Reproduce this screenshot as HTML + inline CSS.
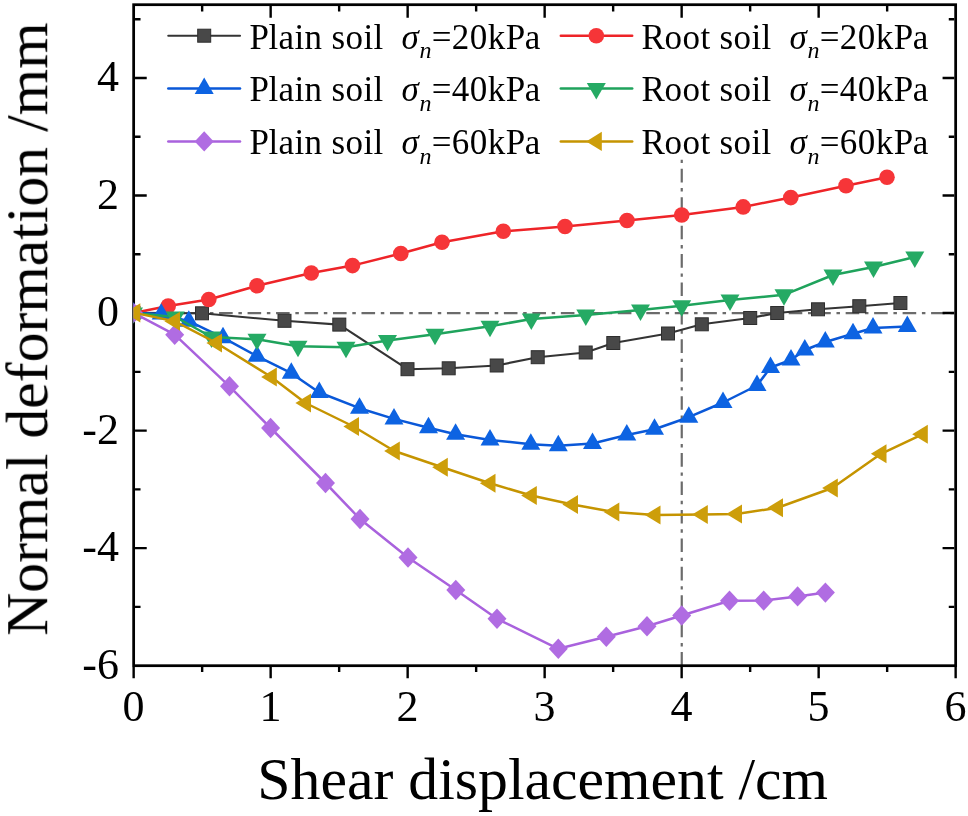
<!DOCTYPE html>
<html><head><meta charset="utf-8"><title>Normal deformation vs shear displacement</title>
<style>html,body{margin:0;padding:0;background:#fff;overflow:hidden}svg{display:block}body{font-family:"Liberation Serif",serif}</style></head>
<body>
<svg width="968" height="816" viewBox="0 0 968 816">
<rect width="968" height="816" fill="#fff"/>
<g stroke="#6b6b6b" stroke-width="2.2" fill="none">
<line x1="133.65" y1="313.2" x2="955.65" y2="313.2" stroke-dasharray="13.6 5.7 3.5 5.68"/>
<line x1="681.75" y1="665.7" x2="681.75" y2="159.5" stroke-dasharray="13.6 5.7 3.4 5.73"/>
</g>
<g stroke="#000" stroke-width="2.75" fill="none" stroke-linecap="butt">
<rect x="133.65" y="4.7" width="822" height="661"/>
<path stroke-width="2.4" d="M133.65 667.08 v11.1 M202.15 6.08 v5.5 M202.15 667.08 v4.9 M270.65 6.08 v11.7 M270.65 667.08 v11.1 M339.15 6.08 v5.5 M339.15 667.08 v4.9 M407.65 6.08 v11.7 M407.65 667.08 v11.1 M476.15 6.08 v5.5 M476.15 667.08 v4.9 M544.65 6.08 v11.7 M544.65 667.08 v11.1 M613.15 6.08 v5.5 M613.15 667.08 v4.9 M681.65 6.08 v11.7 M681.65 667.08 v11.1 M750.15 6.08 v5.5 M750.15 667.08 v4.9 M818.65 6.08 v11.7 M818.65 667.08 v11.1 M887.15 6.08 v5.5 M887.15 667.08 v4.9 M955.65 667.08 v11.1 M135.03 606.92 h5.5 M954.27 606.92 h-5.5 M135.03 548.15 h11.7 M954.27 548.15 h-11.7 M135.03 489.38 h5.5 M954.27 489.38 h-5.5 M135.03 430.6 h11.7 M954.27 430.6 h-11.7 M135.03 371.83 h5.5 M954.27 371.83 h-5.5 M135.03 313.05 h11.7 M954.27 313.05 h-11.7 M135.03 254.28 h5.5 M954.27 254.28 h-5.5 M135.03 195.5 h11.7 M954.27 195.5 h-11.7 M135.03 136.72 h5.5 M954.27 136.72 h-5.5 M135.03 77.95 h11.7 M954.27 77.95 h-11.7 M135.03 19.18 h5.5 M954.27 19.18 h-5.5"/>
</g>
<clipPath id="c"><rect x="133.35" y="4.7" width="822.3" height="661"/></clipPath>
<g clip-path="url(#c)">
<g>
<polyline points="133.5,312.9 202,313.3 284.5,320.8 339.3,324.6 407.5,369.2 448.7,368.3 496.7,365.5 537.7,357.2 585.7,352.5 613.3,343 668,333.5 701.8,324.3 750.2,318 777.2,313 818,309.3 859.3,306.2 900.4,303" fill="none" stroke="#343434" stroke-width="2.15" stroke-linejoin="round"/>
<rect x="127" y="306.4" width="13" height="13" fill="#484848" stroke="#2e2e2e" stroke-width="1"/>
<rect x="195.5" y="306.8" width="13" height="13" fill="#484848" stroke="#2e2e2e" stroke-width="1"/>
<rect x="278" y="314.3" width="13" height="13" fill="#484848" stroke="#2e2e2e" stroke-width="1"/>
<rect x="332.8" y="318.1" width="13" height="13" fill="#484848" stroke="#2e2e2e" stroke-width="1"/>
<rect x="401" y="362.7" width="13" height="13" fill="#484848" stroke="#2e2e2e" stroke-width="1"/>
<rect x="442.2" y="361.8" width="13" height="13" fill="#484848" stroke="#2e2e2e" stroke-width="1"/>
<rect x="490.2" y="359" width="13" height="13" fill="#484848" stroke="#2e2e2e" stroke-width="1"/>
<rect x="531.2" y="350.7" width="13" height="13" fill="#484848" stroke="#2e2e2e" stroke-width="1"/>
<rect x="579.2" y="346" width="13" height="13" fill="#484848" stroke="#2e2e2e" stroke-width="1"/>
<rect x="606.8" y="336.5" width="13" height="13" fill="#484848" stroke="#2e2e2e" stroke-width="1"/>
<rect x="661.5" y="327" width="13" height="13" fill="#484848" stroke="#2e2e2e" stroke-width="1"/>
<rect x="695.3" y="317.8" width="13" height="13" fill="#484848" stroke="#2e2e2e" stroke-width="1"/>
<rect x="743.7" y="311.5" width="13" height="13" fill="#484848" stroke="#2e2e2e" stroke-width="1"/>
<rect x="770.7" y="306.5" width="13" height="13" fill="#484848" stroke="#2e2e2e" stroke-width="1"/>
<rect x="811.5" y="302.8" width="13" height="13" fill="#484848" stroke="#2e2e2e" stroke-width="1"/>
<rect x="852.8" y="299.7" width="13" height="13" fill="#484848" stroke="#2e2e2e" stroke-width="1"/>
<rect x="893.9" y="296.5" width="13" height="13" fill="#484848" stroke="#2e2e2e" stroke-width="1"/>
</g>
<g>
<polyline points="133.5,312.9 168.2,306 208.8,299.5 257,285.8 311.3,273 352.5,265.6 400.8,253.5 442,242.3 503.3,231.3 565,226.5 627,220.5 681.7,215 743.2,206.9 790.8,197.6 846,185.7 887,177.2" fill="none" stroke="#EE2428" stroke-width="2.5" stroke-linejoin="round"/>
<circle cx="133.5" cy="312.9" r="7.8" fill="#F63538"/>
<circle cx="168.2" cy="306" r="7.8" fill="#F63538"/>
<circle cx="208.8" cy="299.5" r="7.8" fill="#F63538"/>
<circle cx="257" cy="285.8" r="7.8" fill="#F63538"/>
<circle cx="311.3" cy="273" r="7.8" fill="#F63538"/>
<circle cx="352.5" cy="265.6" r="7.8" fill="#F63538"/>
<circle cx="400.8" cy="253.5" r="7.8" fill="#F63538"/>
<circle cx="442" cy="242.3" r="7.8" fill="#F63538"/>
<circle cx="503.3" cy="231.3" r="7.8" fill="#F63538"/>
<circle cx="565" cy="226.5" r="7.8" fill="#F63538"/>
<circle cx="627" cy="220.5" r="7.8" fill="#F63538"/>
<circle cx="681.7" cy="215" r="7.8" fill="#F63538"/>
<circle cx="743.2" cy="206.9" r="7.8" fill="#F63538"/>
<circle cx="790.8" cy="197.6" r="7.8" fill="#F63538"/>
<circle cx="846" cy="185.7" r="7.8" fill="#F63538"/>
<circle cx="887" cy="177.2" r="7.8" fill="#F63538"/>
</g>
<g>
<polyline points="133.5,312.9 161.2,314.1 188.8,321.2 223,337.7 257,356.2 291.3,373.2 319.3,392.5 359.5,408.2 394,418.9 428.5,427.8 455.6,434.2 490,439.9 530.8,444.2 558.3,445.7 592.5,443.5 626.8,435 654.5,429.2 688.8,417.2 723,402.5 757,385.5 770.5,367.5 791,360 804.8,350 825.3,342 853,333.7 873,328 907.3,326.4" fill="none" stroke="#0A58D8" stroke-width="2.5" stroke-linejoin="round"/>
<polygon points="133.5,301.93 124,318.38 143,318.38" fill="#0D63E2"/>
<polygon points="161.2,303.13 151.7,319.58 170.7,319.58" fill="#0D63E2"/>
<polygon points="188.8,310.23 179.3,326.68 198.3,326.68" fill="#0D63E2"/>
<polygon points="223,326.73 213.5,343.18 232.5,343.18" fill="#0D63E2"/>
<polygon points="257,345.23 247.5,361.68 266.5,361.68" fill="#0D63E2"/>
<polygon points="291.3,362.23 281.8,378.68 300.8,378.68" fill="#0D63E2"/>
<polygon points="319.3,381.53 309.8,397.98 328.8,397.98" fill="#0D63E2"/>
<polygon points="359.5,397.23 350,413.68 369,413.68" fill="#0D63E2"/>
<polygon points="394,407.93 384.5,424.38 403.5,424.38" fill="#0D63E2"/>
<polygon points="428.5,416.83 419,433.28 438,433.28" fill="#0D63E2"/>
<polygon points="455.6,423.23 446.1,439.68 465.1,439.68" fill="#0D63E2"/>
<polygon points="490,428.93 480.5,445.38 499.5,445.38" fill="#0D63E2"/>
<polygon points="530.8,433.23 521.3,449.68 540.3,449.68" fill="#0D63E2"/>
<polygon points="558.3,434.73 548.8,451.18 567.8,451.18" fill="#0D63E2"/>
<polygon points="592.5,432.53 583,448.98 602,448.98" fill="#0D63E2"/>
<polygon points="626.8,424.03 617.3,440.48 636.3,440.48" fill="#0D63E2"/>
<polygon points="654.5,418.23 645,434.68 664,434.68" fill="#0D63E2"/>
<polygon points="688.8,406.23 679.3,422.68 698.3,422.68" fill="#0D63E2"/>
<polygon points="723,391.53 713.5,407.98 732.5,407.98" fill="#0D63E2"/>
<polygon points="757,374.53 747.5,390.98 766.5,390.98" fill="#0D63E2"/>
<polygon points="770.5,356.53 761,372.98 780,372.98" fill="#0D63E2"/>
<polygon points="791,349.03 781.5,365.48 800.5,365.48" fill="#0D63E2"/>
<polygon points="804.8,339.03 795.3,355.48 814.3,355.48" fill="#0D63E2"/>
<polygon points="825.3,331.03 815.8,347.48 834.8,347.48" fill="#0D63E2"/>
<polygon points="853,322.73 843.5,339.18 862.5,339.18" fill="#0D63E2"/>
<polygon points="873,317.03 863.5,333.48 882.5,333.48" fill="#0D63E2"/>
<polygon points="907.3,315.43 897.8,331.88 916.8,331.88" fill="#0D63E2"/>
</g>
<g>
<polyline points="133.5,312.9 175.3,317 211.5,337 257,339.3 298,346.3 346,347.3 387.5,340.5 435,334.3 490,326.3 531.3,319 585.8,315 640.5,310 681.7,305.8 730,300 784,294.8 833,275 873.5,267 914.8,257" fill="none" stroke="#1FA35C" stroke-width="2.5" stroke-linejoin="round"/>
<polygon points="133.5,323.87 124,307.42 143,307.42" fill="#25AA64"/>
<polygon points="175.3,327.97 165.8,311.52 184.8,311.52" fill="#25AA64"/>
<polygon points="211.5,347.97 202,331.52 221,331.52" fill="#25AA64"/>
<polygon points="257,350.27 247.5,333.82 266.5,333.82" fill="#25AA64"/>
<polygon points="298,357.27 288.5,340.82 307.5,340.82" fill="#25AA64"/>
<polygon points="346,358.27 336.5,341.82 355.5,341.82" fill="#25AA64"/>
<polygon points="387.5,351.47 378,335.02 397,335.02" fill="#25AA64"/>
<polygon points="435,345.27 425.5,328.82 444.5,328.82" fill="#25AA64"/>
<polygon points="490,337.27 480.5,320.82 499.5,320.82" fill="#25AA64"/>
<polygon points="531.3,329.97 521.8,313.52 540.8,313.52" fill="#25AA64"/>
<polygon points="585.8,325.97 576.3,309.52 595.3,309.52" fill="#25AA64"/>
<polygon points="640.5,320.97 631,304.52 650,304.52" fill="#25AA64"/>
<polygon points="681.7,316.77 672.2,300.32 691.2,300.32" fill="#25AA64"/>
<polygon points="730,310.97 720.5,294.52 739.5,294.52" fill="#25AA64"/>
<polygon points="784,305.77 774.5,289.32 793.5,289.32" fill="#25AA64"/>
<polygon points="833,285.97 823.5,269.52 842.5,269.52" fill="#25AA64"/>
<polygon points="873.5,277.97 864,261.52 883,261.52" fill="#25AA64"/>
<polygon points="914.8,267.97 905.3,251.52 924.3,251.52" fill="#25AA64"/>
</g>
<g>
<polyline points="133.5,312.9 174.7,334.7 229.5,386.3 270.6,428 325.5,483 360,519 408,557.5 455.8,590 497,618.8 558.3,648.8 606.3,636.8 647,626.3 681.7,615.5 729.5,600.8 763.7,600.6 797.6,596.4 825.4,592.6" fill="none" stroke="#A962DD" stroke-width="2.5" stroke-linejoin="round"/>
<polygon points="133.5,302.7 143,312.9 133.5,323.1 124,312.9" fill="#B06CE2"/>
<polygon points="174.7,324.5 184.2,334.7 174.7,344.9 165.2,334.7" fill="#B06CE2"/>
<polygon points="229.5,376.1 239,386.3 229.5,396.5 220,386.3" fill="#B06CE2"/>
<polygon points="270.6,417.8 280.1,428 270.6,438.2 261.1,428" fill="#B06CE2"/>
<polygon points="325.5,472.8 335,483 325.5,493.2 316,483" fill="#B06CE2"/>
<polygon points="360,508.8 369.5,519 360,529.2 350.5,519" fill="#B06CE2"/>
<polygon points="408,547.3 417.5,557.5 408,567.7 398.5,557.5" fill="#B06CE2"/>
<polygon points="455.8,579.8 465.3,590 455.8,600.2 446.3,590" fill="#B06CE2"/>
<polygon points="497,608.6 506.5,618.8 497,629 487.5,618.8" fill="#B06CE2"/>
<polygon points="558.3,638.6 567.8,648.8 558.3,659 548.8,648.8" fill="#B06CE2"/>
<polygon points="606.3,626.6 615.8,636.8 606.3,647 596.8,636.8" fill="#B06CE2"/>
<polygon points="647,616.1 656.5,626.3 647,636.5 637.5,626.3" fill="#B06CE2"/>
<polygon points="681.7,605.3 691.2,615.5 681.7,625.7 672.2,615.5" fill="#B06CE2"/>
<polygon points="729.5,590.6 739,600.8 729.5,611 720,600.8" fill="#B06CE2"/>
<polygon points="763.7,590.4 773.2,600.6 763.7,610.8 754.2,600.6" fill="#B06CE2"/>
<polygon points="797.6,586.2 807.1,596.4 797.6,606.6 788.1,596.4" fill="#B06CE2"/>
<polygon points="825.4,582.4 834.9,592.6 825.4,602.8 815.9,592.6" fill="#B06CE2"/>
</g>
<g>
<polyline points="134.8,312.9 174.5,321.2 216.5,343 271.3,377 305.5,403 353.5,426.5 394.3,451 442.3,467.3 490,483.3 531.3,495.5 572.5,504.5 613.8,512 655,515 702.3,514.5 736.5,514 777.5,507.8 832.3,488 881,453.8 922.3,434.3" fill="none" stroke="#C59400" stroke-width="2.5" stroke-linejoin="round"/>
<polygon points="124.7,312.9 140.3,303.35 140.3,322.45" fill="#CD9E0A"/>
<polygon points="164.4,321.2 180,311.65 180,330.75" fill="#CD9E0A"/>
<polygon points="206.4,343 222,333.45 222,352.55" fill="#CD9E0A"/>
<polygon points="261.2,377 276.8,367.45 276.8,386.55" fill="#CD9E0A"/>
<polygon points="295.4,403 311,393.45 311,412.55" fill="#CD9E0A"/>
<polygon points="343.4,426.5 359,416.95 359,436.05" fill="#CD9E0A"/>
<polygon points="384.2,451 399.8,441.45 399.8,460.55" fill="#CD9E0A"/>
<polygon points="432.2,467.3 447.8,457.75 447.8,476.85" fill="#CD9E0A"/>
<polygon points="479.9,483.3 495.5,473.75 495.5,492.85" fill="#CD9E0A"/>
<polygon points="521.2,495.5 536.8,485.95 536.8,505.05" fill="#CD9E0A"/>
<polygon points="562.4,504.5 578,494.95 578,514.05" fill="#CD9E0A"/>
<polygon points="603.7,512 619.3,502.45 619.3,521.55" fill="#CD9E0A"/>
<polygon points="644.9,515 660.5,505.45 660.5,524.55" fill="#CD9E0A"/>
<polygon points="692.2,514.5 707.8,504.95 707.8,524.05" fill="#CD9E0A"/>
<polygon points="726.4,514 742,504.45 742,523.55" fill="#CD9E0A"/>
<polygon points="767.4,507.8 783,498.25 783,517.35" fill="#CD9E0A"/>
<polygon points="822.2,488 837.8,478.45 837.8,497.55" fill="#CD9E0A"/>
<polygon points="870.9,453.8 886.5,444.25 886.5,463.35" fill="#CD9E0A"/>
<polygon points="912.2,434.3 927.8,424.75 927.8,443.85" fill="#CD9E0A"/>
</g>
</g>
<g>
<line x1="168.3" y1="35.7" x2="240" y2="35.7" stroke="#343434" stroke-width="2.15" stroke-linecap="round"/>
<rect x="197.7" y="29.2" width="13" height="13" fill="#484848" stroke="#2e2e2e" stroke-width="1"/>
<line x1="168.3" y1="88.5" x2="240" y2="88.5" stroke="#0A58D8" stroke-width="2.5" stroke-linecap="round"/>
<polygon points="204.2,77.53 194.7,93.98 213.7,93.98" fill="#0D63E2"/>
<line x1="168.3" y1="141.4" x2="240" y2="141.4" stroke="#A962DD" stroke-width="2.5" stroke-linecap="round"/>
<polygon points="204.2,131.2 213.7,141.4 204.2,151.6 194.7,141.4" fill="#B06CE2"/>
<line x1="560.8" y1="35.7" x2="632.2" y2="35.7" stroke="#EE2428" stroke-width="2.5" stroke-linecap="round"/>
<circle cx="596.3" cy="35.7" r="7.8" fill="#F63538"/>
<line x1="560.8" y1="88.5" x2="632.2" y2="88.5" stroke="#1FA35C" stroke-width="2.5" stroke-linecap="round"/>
<polygon points="596.3,99.47 586.8,83.02 605.8,83.02" fill="#25AA64"/>
<line x1="560.8" y1="141.4" x2="632.2" y2="141.4" stroke="#C59400" stroke-width="2.5" stroke-linecap="round"/>
<polygon points="586.2,141.4 601.8,131.85 601.8,150.95" fill="#CD9E0A"/>
</g>
<g style="font-family:'Liberation Serif',serif;filter:grayscale(1)" font-size="35" fill="#000">
<text x="249.4 268.4 278.4 294.4 304.4 322.4 331.4 345.4 363.4 373.4" y="48.5">Plain soil</text>
<text x="401.4" y="48.5" font-style="italic">σ</text>
<text x="419.5" y="58.4" font-style="italic" font-size="24">n</text>
<text x="431.8 451.8 469.8 487.8 505.8 524.8" y="48.5">=20kPa</text>
<text x="249.4 268.4 278.4 294.4 304.4 322.4 331.4 345.4 363.4 373.4" y="101.3">Plain soil</text>
<text x="401.4" y="101.3" font-style="italic">σ</text>
<text x="419.5" y="111.2" font-style="italic" font-size="24">n</text>
<text x="431.8 451.8 469.8 487.8 505.8 524.8" y="101.3">=40kPa</text>
<text x="249.4 268.4 278.4 294.4 304.4 322.4 331.4 345.4 363.4 373.4" y="154.2">Plain soil</text>
<text x="401.4" y="154.2" font-style="italic">σ</text>
<text x="419.5" y="164.1" font-style="italic" font-size="24">n</text>
<text x="431.8 451.8 469.8 487.8 505.8 524.8" y="154.2">=60kPa</text>
<text x="641.4 664.4 682.4 700.4 710.4 719.4 733.4 751.4 761.4" y="48.5">Root soil</text>
<text x="789.4" y="48.5" font-style="italic">σ</text>
<text x="807.5" y="58.4" font-style="italic" font-size="24">n</text>
<text x="819.8 839.8 857.8 875.8 893.8 912.8" y="48.5">=20kPa</text>
<text x="641.4 664.4 682.4 700.4 710.4 719.4 733.4 751.4 761.4" y="101.3">Root soil</text>
<text x="789.4" y="101.3" font-style="italic">σ</text>
<text x="807.5" y="111.2" font-style="italic" font-size="24">n</text>
<text x="819.8 839.8 857.8 875.8 893.8 912.8" y="101.3">=40kPa</text>
<text x="641.4 664.4 682.4 700.4 710.4 719.4 733.4 751.4 761.4" y="154.2">Root soil</text>
<text x="789.4" y="154.2" font-style="italic">σ</text>
<text x="807.5" y="164.1" font-style="italic" font-size="24">n</text>
<text x="819.8 839.8 857.8 875.8 893.8 912.8" y="154.2">=60kPa</text>
</g>
<g style="font-family:'Liberation Serif',serif;filter:grayscale(1)" font-size="44" fill="#000">
<text x="133.45" y="721" text-anchor="middle">0</text>
<text x="270.45" y="721" text-anchor="middle">1</text>
<text x="407.45" y="721" text-anchor="middle">2</text>
<text x="544.45" y="721" text-anchor="middle">3</text>
<text x="681.45" y="721" text-anchor="middle">4</text>
<text x="818.45" y="721" text-anchor="middle">5</text>
<text x="955.45" y="721" text-anchor="middle">6</text>
<text x="118.9" y="678.7" text-anchor="end">-6</text>
<text x="118.9" y="561.15" text-anchor="end">-4</text>
<text x="118.9" y="443.6" text-anchor="end">-2</text>
<text x="118.9" y="326.05" text-anchor="end">0</text>
<text x="118.9" y="208.5" text-anchor="end">2</text>
<text x="118.9" y="90.95" text-anchor="end">4</text>
</g>
<g style="font-family:'Liberation Serif',serif;filter:grayscale(1)" fill="#000">
<text x="257.3" y="798.5" font-size="59.75">Shear displacement /cm</text>
<text transform="translate(47.2 635.8) rotate(-90)" font-size="59.7">Normal deformation /mm</text>
</g>
</svg>
</body></html>
